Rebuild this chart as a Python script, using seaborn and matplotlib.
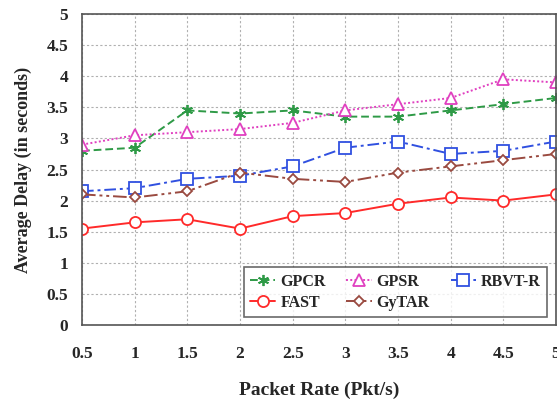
import matplotlib
matplotlib.use('Agg')
import matplotlib.pyplot as plt
import seaborn as sns
import pandas as pd

packet_rate = [0.5, 1, 1.5, 2, 2.5, 3, 3.5, 4, 4.5, 5]
gpcr = [2.8, 2.85, 3.45, 3.4, 3.45, 3.35, 3.35, 3.45, 3.55, 3.65]
gpsr = [2.9, 3.05, 3.1, 3.15, 3.25, 3.45, 3.55, 3.65, 3.95, 3.9]
rbvt = [2.15, 2.2, 2.35, 2.4, 2.55, 2.85, 2.95, 2.75, 2.8, 2.95]
fast = [1.55, 1.65, 1.7, 1.55, 1.75, 1.8, 1.95, 2.05, 2.0, 2.1]
gytar = [2.1, 2.05, 2.15, 2.45, 2.35, 2.3, 2.45, 2.55, 2.65, 2.75]

sns.set_style('white')
plt.rcParams['font.family'] = ['Liberation Serif', 'DejaVu Serif']
plt.rcParams['font.weight'] = 'bold'

fig = plt.figure(figsize=(5.57, 4.03), dpi=100)
ax = fig.add_axes([82 / 557, 1 - 325 / 403, (556 - 82) / 557, (325 - 14) / 403])

# name, values, colour, linestyle, marker
series = [
    ('GPCR', gpcr, '#2e9a46', (0, (4, 2)), (6, 2, 0)),
    ('GPSR', gpsr, '#e040c0', (0, (1, 1.2)), '^'),
    ('RBVT-R', rbvt, '#3050e0', (0, (6, 2, 1.5, 2)), 's'),
    ('FAST', fast, '#ff2a2a', '-', 'o'),
    ('GyTAR', gytar, '#9a4a40', (0, (7, 2, 1.5, 2, 1.5, 2)), 'D'),
]

for name, vals, col, ls, mk in series:
    df = pd.DataFrame({'x': packet_rate, 'y': vals})
    filled = mk == (6, 2, 0)
    sns.lineplot(data=df, x='x', y='y', ax=ax, color=col, linestyle=ls,
                 linewidth=1.4, marker=mk,
                 markersize=8 if mk != 'D' else 5.5,
                 markerfacecolor=col if filled else 'white',
                 markeredgecolor=col, markeredgewidth=1.3, label=name)

ax.set_xlim(0.5, 5)
ax.set_ylim(0, 5)
ax.set_xticks(packet_rate)
ax.set_xticklabels(['0.5', '1', '1.5', '2', '2.5', '3', '3.5', '4', '4.5', '5'])
ax.set_yticks([0, 0.5, 1, 1.5, 2, 2.5, 3, 3.5, 4, 4.5, 5])
ax.set_yticklabels(['0', '0.5', '1', '1.5', '2', '2.5', '3', '3.5', '4', '4.5', '5'])
ax.tick_params(axis='both', direction='in', length=4, labelsize=12.5, pad=15)
ax.tick_params(axis='y', pad=10)
ax.grid(True, color='#b0b0b0', linestyle=(0, (2, 2)), linewidth=0.8)
for s in ax.spines.values():
    s.set_color('#555555')
    s.set_linewidth(1.2)

ax.set_xlabel('Packet Rate (Pkt/s)', fontsize=14, fontweight='bold', labelpad=14)
ax.set_ylabel('Average Delay (in seconds)', fontsize=13, fontweight='bold', labelpad=10)

# row-wise legend order for 3 columns
handles, labels = ax.get_legend_handles_labels()
order = [0, 3, 1, 4, 2]
leg = ax.legend([handles[i] for i in order], [labels[i] for i in order],
                ncol=3, loc='lower right', bbox_to_anchor=(0.981, 0.026),
                frameon=True, fancybox=False, handlelength=1.6,
                columnspacing=1.3, borderpad=0.4, handletextpad=0.3,
                labelspacing=0.3, borderaxespad=0,
                prop={'weight': 'bold', 'size': 11.5})
leg.get_frame().set_edgecolor('#444444')
leg.get_frame().set_linewidth(1.2)

fig.savefig('out.png', dpi=100)
